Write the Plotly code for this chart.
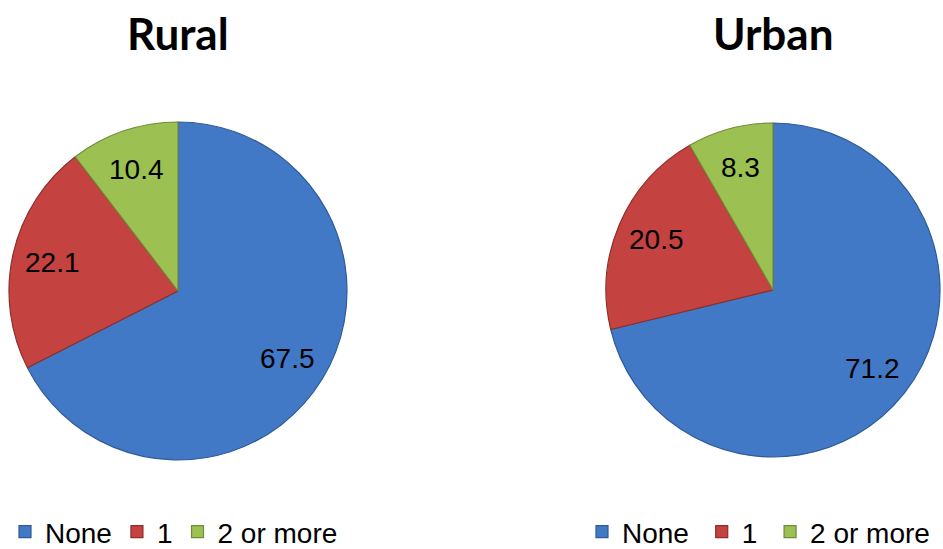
import math
import plotly.graph_objects as go

categories = ["None", "1", "2 or more"]
rural_values = [67.5, 22.1, 10.4]
urban_values = [71.2, 20.5, 8.3]
panel_titles = ["Rural", "Urban"]

fill_colors = ["#4279c6", "#c4423f", "#9cc052"]
edge_colors = ["#2f5b96", "#8e2e2c", "#6f8c38"]

W, H = 943, 549
LABEL_FONT = "Liberation Sans, Arial"


def pie_domain(cx, cy, r):
    return dict(x=[(cx - r) / W, (cx + r) / W],
                y=[1 - (cy + r) / H, 1 - (cy - r) / H])


def value_labels(vals, cx, cy, r, frac=0.76):
    """Place each value label along its slice's mid-angle (clockwise from 12 o'clock)."""
    total = sum(vals)
    out = []
    cum = 0.0
    for v in vals:
        mid = (cum + v / 2) / total * 2 * math.pi
        cum += v
        px = cx + frac * r * math.sin(mid)
        py = cy - frac * r * math.cos(mid)
        out.append(dict(text=f"{v:.1f}", x=px / W, y=1 - py / H,
                        xref="paper", yref="paper", showarrow=False,
                        xanchor="center", yanchor="middle",
                        font=dict(family=LABEL_FONT, size=28, color="black")))
    return out


fig = go.Figure()
panels = [
    # values, centre x, centre y, radius, legend id, label suffix
    (rural_values, 178, 291, 169, "legend", ""),
    (urban_values, 773, 290, 167, "legend2", " "),
]
annotations = []
for (vals, cx, cy, r, leg, suffix), title in zip(panels, panel_titles):
    fig.add_trace(go.Pie(
        labels=[c + suffix for c in categories],
        values=vals,
        sort=False,
        direction="clockwise",
        rotation=0,
        domain=pie_domain(cx, cy, r),
        legend=leg,
        marker=dict(colors=fill_colors, line=dict(color=edge_colors, width=1.2)),
        textinfo="none",
        hoverinfo="label+value",
    ))
    annotations += value_labels(vals, cx, cy, r)
    annotations.append(dict(
        text=f"<b>{title}</b>", x=cx / W, y=1 - 33 / H,
        xref="paper", yref="paper", showarrow=False,
        xanchor="center", yanchor="middle",
        font=dict(family="Lato, Open Sans", size=44, color="black")))

legend_style = dict(
    orientation="h",
    yanchor="middle",
    y=1 - 532 / H,
    font=dict(family=LABEL_FONT, size=28, color="black"),
    bgcolor="rgba(0,0,0,0)",
    traceorder="normal",
)

fig.update_layout(
    width=W,
    height=H,
    margin=dict(l=0, r=0, t=0, b=0, autoexpand=False),
    paper_bgcolor="white",
    plot_bgcolor="white",
    showlegend=True,
    legend=dict(x=5 / W, xanchor="left", **legend_style),
    legend2=dict(x=1.0, xanchor="right", **legend_style),
    annotations=annotations,
)

fig.write_html("out.html")
